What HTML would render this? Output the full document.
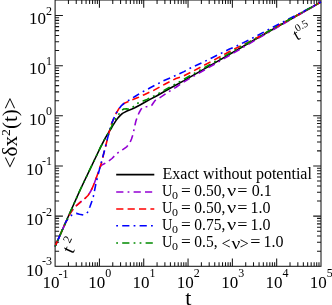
<!DOCTYPE html>
<html><head><meta charset="utf-8"><style>
html,body{margin:0;padding:0;background:#fff;}
svg{display:block;will-change:transform;}
</style></head><body>
<svg width="332" height="305" viewBox="0 0 332 305">
<defs><clipPath id="c"><rect x="54.5" y="0.0" width="267.09999999999997" height="266.90000000000003"/></clipPath></defs>
<rect width="332" height="305" fill="#fff"/>
<path d="M68.44 266.3 v-4.0 M68.44 0.0 v4.0 M76.24 266.3 v-4.0 M76.24 0.0 v4.0 M81.78 266.3 v-4.0 M81.78 0.0 v4.0 M86.08 266.3 v-4.0 M86.08 0.0 v4.0 M89.59 266.3 v-4.0 M89.59 0.0 v4.0 M92.55 266.3 v-4.0 M92.55 0.0 v4.0 M95.12 266.3 v-4.0 M95.12 0.0 v4.0 M97.39 266.3 v-4.0 M97.39 0.0 v4.0 M99.42 266.3 v-7.8 M99.42 0.0 v7.8 M112.76 266.3 v-4.0 M112.76 0.0 v4.0 M120.56 266.3 v-4.0 M120.56 0.0 v4.0 M126.10 266.3 v-4.0 M126.10 0.0 v4.0 M130.39 266.3 v-4.0 M130.39 0.0 v4.0 M133.90 266.3 v-4.0 M133.90 0.0 v4.0 M136.87 266.3 v-4.0 M136.87 0.0 v4.0 M139.44 266.3 v-4.0 M139.44 0.0 v4.0 M141.71 266.3 v-4.0 M141.71 0.0 v4.0 M143.73 266.3 v-7.8 M143.73 0.0 v7.8 M157.07 266.3 v-4.0 M157.07 0.0 v4.0 M164.88 266.3 v-4.0 M164.88 0.0 v4.0 M170.41 266.3 v-4.0 M170.41 0.0 v4.0 M174.71 266.3 v-4.0 M174.71 0.0 v4.0 M178.22 266.3 v-4.0 M178.22 0.0 v4.0 M181.19 266.3 v-4.0 M181.19 0.0 v4.0 M183.76 266.3 v-4.0 M183.76 0.0 v4.0 M186.02 266.3 v-4.0 M186.02 0.0 v4.0 M188.05 266.3 v-7.8 M188.05 0.0 v7.8 M201.39 266.3 v-4.0 M201.39 0.0 v4.0 M209.19 266.3 v-4.0 M209.19 0.0 v4.0 M214.73 266.3 v-4.0 M214.73 0.0 v4.0 M219.03 266.3 v-4.0 M219.03 0.0 v4.0 M222.54 266.3 v-4.0 M222.54 0.0 v4.0 M225.50 266.3 v-4.0 M225.50 0.0 v4.0 M228.07 266.3 v-4.0 M228.07 0.0 v4.0 M230.34 266.3 v-4.0 M230.34 0.0 v4.0 M232.37 266.3 v-7.8 M232.37 0.0 v7.8 M245.71 266.3 v-4.0 M245.71 0.0 v4.0 M253.51 266.3 v-4.0 M253.51 0.0 v4.0 M259.05 266.3 v-4.0 M259.05 0.0 v4.0 M263.34 266.3 v-4.0 M263.34 0.0 v4.0 M266.85 266.3 v-4.0 M266.85 0.0 v4.0 M269.82 266.3 v-4.0 M269.82 0.0 v4.0 M272.39 266.3 v-4.0 M272.39 0.0 v4.0 M274.66 266.3 v-4.0 M274.66 0.0 v4.0 M276.68 266.3 v-7.8 M276.68 0.0 v7.8 M290.02 266.3 v-4.0 M290.02 0.0 v4.0 M297.83 266.3 v-4.0 M297.83 0.0 v4.0 M303.36 266.3 v-4.0 M303.36 0.0 v4.0 M307.66 266.3 v-4.0 M307.66 0.0 v4.0 M311.17 266.3 v-4.0 M311.17 0.0 v4.0 M314.14 266.3 v-4.0 M314.14 0.0 v4.0 M316.71 266.3 v-4.0 M316.71 0.0 v4.0 M318.97 266.3 v-4.0 M318.97 0.0 v4.0 M55.1 251.15 h4.0 M321.0 251.15 h-4.0 M55.1 242.32 h4.0 M321.0 242.32 h-4.0 M55.1 236.06 h4.0 M321.0 236.06 h-4.0 M55.1 231.20 h4.0 M321.0 231.20 h-4.0 M55.1 227.23 h4.0 M321.0 227.23 h-4.0 M55.1 223.87 h4.0 M321.0 223.87 h-4.0 M55.1 220.96 h4.0 M321.0 220.96 h-4.0 M55.1 218.39 h4.0 M321.0 218.39 h-4.0 M55.1 216.10 h7.8 M321.0 216.10 h-7.8 M55.1 201.00 h4.0 M321.0 201.00 h-4.0 M55.1 192.17 h4.0 M321.0 192.17 h-4.0 M55.1 185.91 h4.0 M321.0 185.91 h-4.0 M55.1 181.05 h4.0 M321.0 181.05 h-4.0 M55.1 177.08 h4.0 M321.0 177.08 h-4.0 M55.1 173.72 h4.0 M321.0 173.72 h-4.0 M55.1 170.81 h4.0 M321.0 170.81 h-4.0 M55.1 168.24 h4.0 M321.0 168.24 h-4.0 M55.1 165.95 h7.8 M321.0 165.95 h-7.8 M55.1 150.85 h4.0 M321.0 150.85 h-4.0 M55.1 142.02 h4.0 M321.0 142.02 h-4.0 M55.1 135.76 h4.0 M321.0 135.76 h-4.0 M55.1 130.90 h4.0 M321.0 130.90 h-4.0 M55.1 126.93 h4.0 M321.0 126.93 h-4.0 M55.1 123.57 h4.0 M321.0 123.57 h-4.0 M55.1 120.66 h4.0 M321.0 120.66 h-4.0 M55.1 118.09 h4.0 M321.0 118.09 h-4.0 M55.1 115.80 h7.8 M321.0 115.80 h-7.8 M55.1 100.70 h4.0 M321.0 100.70 h-4.0 M55.1 91.87 h4.0 M321.0 91.87 h-4.0 M55.1 85.61 h4.0 M321.0 85.61 h-4.0 M55.1 80.75 h4.0 M321.0 80.75 h-4.0 M55.1 76.78 h4.0 M321.0 76.78 h-4.0 M55.1 73.42 h4.0 M321.0 73.42 h-4.0 M55.1 70.51 h4.0 M321.0 70.51 h-4.0 M55.1 67.94 h4.0 M321.0 67.94 h-4.0 M55.1 65.65 h7.8 M321.0 65.65 h-7.8 M55.1 50.55 h4.0 M321.0 50.55 h-4.0 M55.1 41.72 h4.0 M321.0 41.72 h-4.0 M55.1 35.46 h4.0 M321.0 35.46 h-4.0 M55.1 30.60 h4.0 M321.0 30.60 h-4.0 M55.1 26.63 h4.0 M321.0 26.63 h-4.0 M55.1 23.27 h4.0 M321.0 23.27 h-4.0 M55.1 20.36 h4.0 M321.0 20.36 h-4.0 M55.1 17.79 h4.0 M321.0 17.79 h-4.0 M55.1 15.50 h7.8 M321.0 15.50 h-7.8" stroke="#161616" stroke-width="1.05" fill="none"/>
<rect x="55.1" y="0.0" width="265.9" height="266.3" fill="none" stroke="#161616" stroke-width="1.05"/>
<g clip-path="url(#c)">
<path d="M55.0 246.6 L65.4 223.0 L80.1 190.0 L99.2 150.0 L100.3 147.6 L105.5 137.7 L109.0 131.8 L111.5 128.0 L112.6 125.9 L115.8 120.9 L118.0 117.9 L120.3 115.4 L122.5 113.4 L124.9 112.1 L127.0 111.0 L129.5 110.0 L132.0 109.1 L134.8 107.8 L140.0 105.0 L145.7 101.8 L150.0 99.4 L156.5 96.0 L169.2 88.8 L184.0 80.6 L190.0 77.1 L214.0 63.4 L240.0 48.2 L258.0 37.8 L321.0 2.0" fill="none" stroke="#000" stroke-width="1.6" stroke-linejoin="round"/>
<path d="M55.0 246.6 L64.6 224.8 L70.4 213.0 L72.0 210.5 L76.0 206.0 L81.0 201.6 L84.7 198.7 L88.0 195.5 L90.4 191.8 L92.5 187.5 L94.5 182.8 L98.6 171.3 L100.3 166.8 L101.5 165.2 L102.8 164.4 L104.2 163.8 L108.5 161.3 L112.0 158.5 L116.4 154.0 L119.5 151.5 L122.4 149.8 L126.7 146.8 L129.7 143.2 L131.5 139.0 L133.3 133.5 L134.3 128.0 L135.9 121.0 L137.6 116.0 L139.2 112.5 L140.8 109.6 L142.3 107.8 L144.0 106.8 L147.0 106.6 L150.0 106.3 L151.8 105.2 L153.3 103.0 L155.0 100.6 L157.3 99.1 L160.0 97.6 L169.4 91.4 L176.4 87.0 L183.0 82.5 L190.0 78.3 L214.0 64.5 L240.0 49.2 L258.0 38.5 L321.0 2.0" fill="none" stroke="#9400d3" stroke-width="1.6" stroke-linejoin="round" stroke-dasharray="1.8 4.2 7.2 4.2 7.2 4.2" stroke-dashoffset="0"/>
<path d="M55.0 246.6 L64.6 224.8 L70.4 213.0 L72.0 210.5 L76.0 206.0 L81.0 201.6 L84.7 198.7 L88.0 195.5 L90.4 191.8 L92.5 187.5 L94.5 182.8 L98.6 171.3 L101.9 161.5 L104.3 151.3 L105.5 146.7 L107.9 136.9 L110.4 127.5 L111.2 124.6 L113.5 119.1 L115.3 114.8 L118.5 109.3 L121.7 105.3 L124.9 102.9 L128.5 101.6 L132.1 99.9 L138.6 97.3 L144.2 94.7 L153.2 90.6 L165.7 83.7 L176.0 78.5 L184.0 75.8 L192.2 71.6 L204.0 65.4 L214.0 60.0 L232.5 49.9 L252.0 40.5 L280.0 24.8 L321.0 2.0" fill="none" stroke="#ff0000" stroke-width="1.6" stroke-linejoin="round" stroke-dasharray="7.2 4.2" stroke-dashoffset="0"/>
<path d="M55.0 246.6 L64.6 224.8 L66.0 221.5 L68.8 218.0 L72.0 215.0 L76.3 213.4 L79.5 214.2 L83.3 215.0 L86.0 214.0 L87.6 212.3 L90.0 206.5 L92.0 201.0 L93.3 196.7 L96.1 182.8 L100.2 166.4 L104.3 151.3 L105.5 146.7 L107.9 136.9 L110.4 127.5 L111.2 124.6 L113.5 119.1 L115.3 114.8 L118.5 109.3 L121.7 105.3 L124.9 102.6 L128.5 100.4 L131.4 98.7 L135.4 96.2 L141.0 92.6 L150.2 87.8 L163.0 81.0 L170.6 77.9 L178.5 74.2 L184.0 71.6 L190.0 68.3 L210.0 58.9 L229.0 49.3 L236.6 46.0 L250.8 39.0 L280.0 23.5 L300.0 13.2 L321.0 2.0" fill="none" stroke="#0000ff" stroke-width="1.6" stroke-linejoin="round" stroke-dasharray="1.8 4.2 7.2 4.2" stroke-dashoffset="0"/>
<path d="M55.0 246.6 L65.4 223.0 L80.1 190.0 L99.2 150.0 L100.3 147.6 L105.5 137.7 L109.0 131.6 L111.5 126.5 L113.0 123.2 L116.5 117.5 L120.3 112.2 L122.0 110.2 L123.7 109.0 L126.5 108.9 L129.3 109.4 L131.5 108.2 L133.2 106.8 L135.6 104.8 L138.1 103.0 L140.5 101.9 L143.0 101.0 L147.0 99.4 L150.0 98.0 L156.5 94.6 L169.2 87.5 L184.0 79.3 L190.0 75.8 L214.0 62.2 L240.0 47.3 L258.0 37.2 L300.0 13.5 L321.0 2.0" fill="none" stroke="#008b00" stroke-width="1.6" stroke-linejoin="round" stroke-dasharray="1.8 4.2 1.8 4.2 7.2 4.2" stroke-dashoffset="0"/>
</g>
<path d="M116.2 174.6 H154.3" fill="none" stroke="#000" stroke-width="1.6"/>
<path d="M116.2 192 H154.3" fill="none" stroke="#9400d3" stroke-width="1.6" stroke-dasharray="1.8 4.2 7.2 4.2 7.2 4.2" stroke-dashoffset="17.4"/>
<path d="M116.2 209 H154.3" fill="none" stroke="#ff0000" stroke-width="1.6" stroke-dasharray="7.2 4.2" stroke-dashoffset="0"/>
<path d="M116.2 225.8 H154.3" fill="none" stroke="#0000ff" stroke-width="1.6" stroke-dasharray="1.8 4.2 7.2 4.2" stroke-dashoffset="0"/>
<path d="M116.2 243 H154.3" fill="none" stroke="#008b00" stroke-width="1.6" stroke-dasharray="1.8 4.2 1.8 4.2 7.2 4.2" stroke-dashoffset="6.0"/>
<text x="162.6" y="178.7" font-family="Liberation Serif, serif" font-size="16">Exact without potential</text>
<text x="162.1" y="196.2" font-family="Liberation Serif, serif" font-size="16" textLength="10.4" lengthAdjust="spacingAndGlyphs">U</text><text x="172.0" y="199.0" font-family="Liberation Serif, serif" font-size="10.5" textLength="6.0" lengthAdjust="spacingAndGlyphs">0</text><text x="181.0" y="196.2" font-family="Liberation Serif, serif" font-size="16" textLength="9.8" lengthAdjust="spacingAndGlyphs">=</text><text x="194.3" y="196.2" font-family="Liberation Serif, serif" font-size="16" textLength="31.0" lengthAdjust="spacingAndGlyphs">0.50,</text><text x="226.9" y="196.2" font-family="Liberation Serif, serif" font-size="16" textLength="9.2" lengthAdjust="spacingAndGlyphs">ν</text><text x="237.3" y="196.2" font-family="Liberation Serif, serif" font-size="16" textLength="10.2" lengthAdjust="spacingAndGlyphs">=</text><text x="251.8" y="196.2" font-family="Liberation Serif, serif" font-size="16">0.1</text>
<text x="162.1" y="213" font-family="Liberation Serif, serif" font-size="16" textLength="10.4" lengthAdjust="spacingAndGlyphs">U</text><text x="172.0" y="215.8" font-family="Liberation Serif, serif" font-size="10.5" textLength="6.0" lengthAdjust="spacingAndGlyphs">0</text><text x="181.0" y="213" font-family="Liberation Serif, serif" font-size="16" textLength="9.8" lengthAdjust="spacingAndGlyphs">=</text><text x="194.3" y="213" font-family="Liberation Serif, serif" font-size="16" textLength="31.0" lengthAdjust="spacingAndGlyphs">0.50,</text><text x="226.9" y="213" font-family="Liberation Serif, serif" font-size="16" textLength="9.2" lengthAdjust="spacingAndGlyphs">ν</text><text x="237.3" y="213" font-family="Liberation Serif, serif" font-size="16" textLength="10.2" lengthAdjust="spacingAndGlyphs">=</text><text x="250.6" y="213" font-family="Liberation Serif, serif" font-size="16">1.0</text>
<text x="162.1" y="230" font-family="Liberation Serif, serif" font-size="16" textLength="10.4" lengthAdjust="spacingAndGlyphs">U</text><text x="172.0" y="232.8" font-family="Liberation Serif, serif" font-size="10.5" textLength="6.0" lengthAdjust="spacingAndGlyphs">0</text><text x="181.0" y="230" font-family="Liberation Serif, serif" font-size="16" textLength="9.8" lengthAdjust="spacingAndGlyphs">=</text><text x="194.3" y="230" font-family="Liberation Serif, serif" font-size="16" textLength="31.0" lengthAdjust="spacingAndGlyphs">0.75,</text><text x="226.9" y="230" font-family="Liberation Serif, serif" font-size="16" textLength="9.2" lengthAdjust="spacingAndGlyphs">ν</text><text x="237.3" y="230" font-family="Liberation Serif, serif" font-size="16" textLength="10.2" lengthAdjust="spacingAndGlyphs">=</text><text x="250.6" y="230" font-family="Liberation Serif, serif" font-size="16">1.0</text>
<text x="162.1" y="246.7" font-family="Liberation Serif, serif" font-size="16" textLength="10.4" lengthAdjust="spacingAndGlyphs">U</text><text x="172.0" y="249.5" font-family="Liberation Serif, serif" font-size="10.5" textLength="6.0" lengthAdjust="spacingAndGlyphs">0</text><text x="181.0" y="246.7" font-family="Liberation Serif, serif" font-size="16" textLength="9.8" lengthAdjust="spacingAndGlyphs">=</text><text x="194.3" y="246.7" font-family="Liberation Serif, serif" font-size="16" textLength="23.3" lengthAdjust="spacingAndGlyphs">0.5,</text><text x="221.6" y="249.39999999999998" font-family="Liberation Serif, serif" font-size="16">&lt;</text><text x="231.5" y="249.39999999999998" font-family="Liberation Serif, serif" font-size="16" textLength="8.8" lengthAdjust="spacingAndGlyphs">ν</text><text x="239.8" y="249.39999999999998" font-family="Liberation Serif, serif" font-size="16">&gt;</text><text x="250.3" y="246.7" font-family="Liberation Serif, serif" font-size="16" textLength="10.2" lengthAdjust="spacingAndGlyphs">=</text><text x="263.4" y="246.7" font-family="Liberation Serif, serif" font-size="16">1.0</text>
<text x="52" y="275.55" font-family="Liberation Serif, serif" font-size="17" text-anchor="end">10<tspan font-size="12" dy="-10.4" dx="-0.9">-3</tspan></text>
<text x="52" y="224.9" font-family="Liberation Serif, serif" font-size="17" text-anchor="end">10<tspan font-size="12" dy="-9.4" dx="-0.9">-2</tspan></text>
<text x="52" y="174.75" font-family="Liberation Serif, serif" font-size="17" text-anchor="end">10<tspan font-size="12" dy="-9.4" dx="-0.9">-1</tspan></text>
<text x="52" y="124.6" font-family="Liberation Serif, serif" font-size="17" text-anchor="end">10<tspan font-size="12" dy="-9.4">0</tspan></text>
<text x="52" y="74.45" font-family="Liberation Serif, serif" font-size="17" text-anchor="end">10<tspan font-size="12" dy="-9.4">1</tspan></text>
<text x="52" y="24.3" font-family="Liberation Serif, serif" font-size="17" text-anchor="end">10<tspan font-size="12" dy="-9.4">2</tspan></text>
<text x="55.5" y="288.4" font-family="Liberation Serif, serif" font-size="17" text-anchor="middle">10<tspan font-size="12" dy="-10.7" dx="-0.9">-1</tspan></text>
<text x="99.71666666666665" y="288.4" font-family="Liberation Serif, serif" font-size="17" text-anchor="middle">10<tspan font-size="12" dy="-11.0">0</tspan></text>
<text x="144.03333333333333" y="288.4" font-family="Liberation Serif, serif" font-size="17" text-anchor="middle">10<tspan font-size="12" dy="-11.0">1</tspan></text>
<text x="188.35" y="288.4" font-family="Liberation Serif, serif" font-size="17" text-anchor="middle">10<tspan font-size="12" dy="-11.0">2</tspan></text>
<text x="232.66666666666666" y="288.4" font-family="Liberation Serif, serif" font-size="17" text-anchor="middle">10<tspan font-size="12" dy="-11.0">3</tspan></text>
<text x="276.98333333333335" y="288.4" font-family="Liberation Serif, serif" font-size="17" text-anchor="middle">10<tspan font-size="12" dy="-11.0">4</tspan></text>
<text x="321.3" y="288.4" font-family="Liberation Serif, serif" font-size="17" text-anchor="middle">10<tspan font-size="12" dy="-11.0">5</tspan></text>
<text x="188.4" y="304.6" font-family="Liberation Serif, serif" font-size="22" text-anchor="middle">t</text>
<text transform="translate(17.3,132.8) rotate(-90)" font-family="Liberation Serif, serif" font-size="20" text-anchor="middle" textLength="71" lengthAdjust="spacingAndGlyphs">&lt;δx<tspan font-size="13" dy="-7">2</tspan><tspan dy="7">(t)&gt;</tspan></text>
<text transform="translate(72.8,254.6) rotate(-65)" font-family="Liberation Serif, serif" font-size="19">t<tspan font-size="12" dy="-7.4" dx="3.2">2</tspan></text>
<text transform="translate(297,40.8) rotate(-30)" font-family="Liberation Serif, serif" font-size="17">t<tspan font-size="10.5" dy="-7.5">0.5</tspan></text>
</svg>
</body></html>
